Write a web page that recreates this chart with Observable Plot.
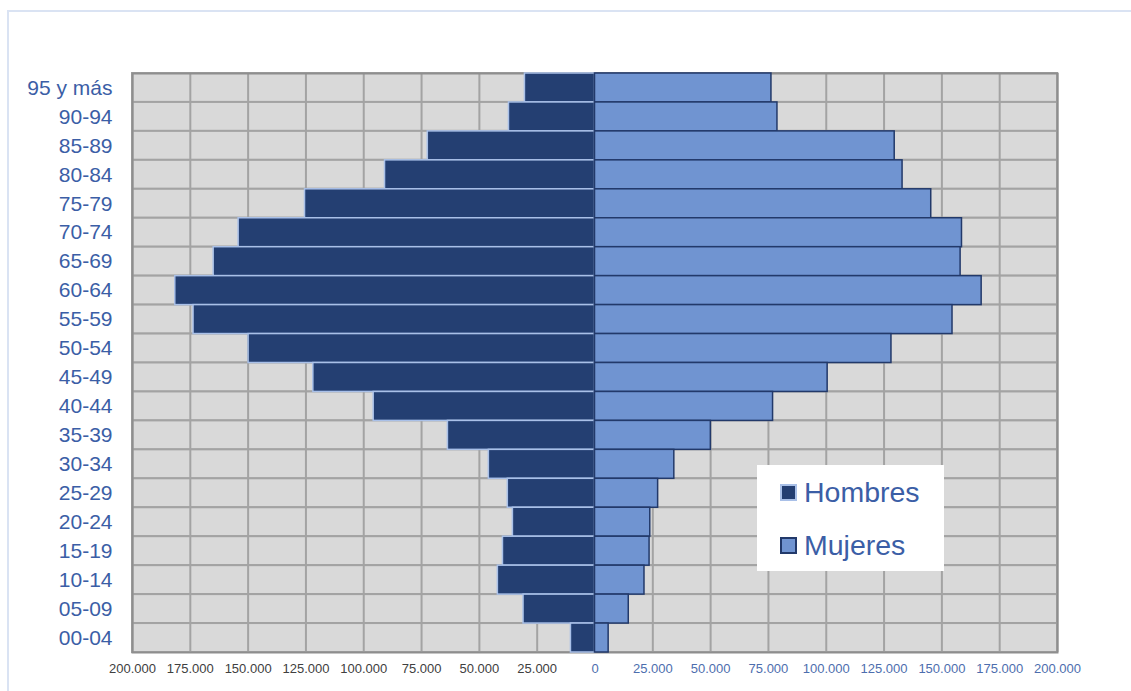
<!DOCTYPE html>
<html>
<head>
<meta charset="utf-8">
<script src="https://cdn.jsdelivr.net/npm/d3@7"></script>
<script src="https://cdn.jsdelivr.net/npm/@observablehq/plot@0.6"></script>
<style>
  html, body { margin: 0; padding: 0; background: #fff; overflow: hidden; }
  #wrap { position: relative; width: 1131px; height: 691px; overflow: hidden; font-family: "Liberation Sans", Arial, sans-serif; }
  #border { position: absolute; left: 7px; top: 10px; width: 1200px; height: 800px; border-left: 2px solid #dae3f3; border-top: 2px solid #dae3f3; }
  #chart { position: absolute; left: 0; top: 0; }
  #legend { position: absolute; left: 757px; top: 465px; width: 187px; height: 106px; background: #fff; }
  .item { position: absolute; left: 23px; height: 30px; }
  .sw { position: absolute; left: 0; width: 13px; height: 13px; border-width: 2px; border-style: solid; }
  .lab { position: absolute; left: 24px; font-size: 28.5px; color: #3b5ea6; white-space: nowrap; line-height: 1; }
</style>
</head>
<body>
<div id="wrap">
  <div id="border"></div>
  <div id="chart"></div>
  <div id="legend"></div>
</div>
<script>
const categories = ["95 y más","90-94","85-89","80-84","75-79","70-74","65-69","60-64","55-59","50-54","45-49","40-44","35-39","30-34","25-29","20-24","15-19","10-14","05-09","00-04"];
const hombres = [30300, 37200, 72300, 90800, 125400, 154100, 164900, 181500, 173600, 149800, 121800, 95700, 63600, 45900, 37700, 35500, 39800, 42000, 30900, 10400];
const mujeres = [76300, 78900, 129600, 133000, 145400, 158700, 158100, 167200, 154600, 128200, 100600, 77000, 50100, 34300, 27300, 23900, 23600, 21400, 14600, 5900];
const tickValues = [-200000,-175000,-150000,-125000,-100000,-75000,-50000,-25000,0,25000,50000,75000,100000,125000,150000,175000,200000];
const seriesNames = ["Hombres","Mujeres"];

const colors = {
  hombresFill: "#243f72", hombresStroke: "#a9c0e8",
  mujeresFill: "#7094d1", mujeresStroke: "#22396a"
};

const rows = categories.map((c, i) => ({age: c, hombres: hombres[i], mujeres: mujeres[i]}));
const loc = d3.formatLocale({decimal: ",", thousands: ".", grouping: [3], currency: ["", ""]});
const fmt = v => loc.format(",")(Math.abs(v));
const xMin = tickValues[0], xMax = tickValues[tickValues.length - 1];

const chart = Plot.plot({
  width: 1131,
  height: 691,
  marginLeft: 132,
  marginRight: 74,
  marginTop: 73,
  marginBottom: 39,
  style: {fontFamily: "'Liberation Sans', Arial, sans-serif", background: "transparent", overflow: "visible"},
  x: {domain: [xMin, xMax], axis: null},
  y: {domain: categories, padding: 0, round: false, axis: null},
  marks: [
    Plot.barX(categories, {y: d => d, x1: xMin, x2: xMax, fill: "#d9d9d9", stroke: "#a3a3a3", strokeWidth: 2}),
    Plot.ruleX(tickValues, {stroke: "#a3a3a3", strokeWidth: 2}),
    Plot.frame({stroke: "#8e8e8e", strokeWidth: 2}),
    Plot.barX(rows, {y: "age", x1: 0, x2: d => -d.hombres, fill: colors.hombresFill, stroke: colors.hombresStroke, strokeWidth: 1.5}),
    Plot.barX(rows, {y: "age", x1: 0, x2: "mujeres", fill: colors.mujeresFill, stroke: colors.mujeresStroke, strokeWidth: 1.5}),
    Plot.axisY({tickSize: 0, tickPadding: 20, fontSize: 21, fill: "#3b5ea6", label: null}),
    Plot.axisX(tickValues.filter(v => v < 0), {tickSize: 0, tickPadding: 11, fontSize: 13, fill: "#404040", tickFormat: fmt, label: null}),
    Plot.axisX(tickValues.filter(v => v >= 0), {tickSize: 0, tickPadding: 11, fontSize: 13, fill: "#4d6eae", tickFormat: fmt, label: null})
  ]
});
document.getElementById("chart").appendChild(chart);

// legend
const legend = document.getElementById("legend");
const legendStyles = [
  {fill: colors.hombresFill, stroke: colors.hombresStroke, top: 19},
  {fill: colors.mujeresFill, stroke: colors.mujeresStroke, top: 72}
];
seriesNames.forEach((name, i) => {
  const s = legendStyles[i];
  const item = document.createElement("div");
  item.className = "item";
  item.style.top = s.top + "px";
  const sw = document.createElement("div");
  sw.className = "sw";
  sw.style.background = s.fill;
  sw.style.borderColor = s.stroke;
  const lab = document.createElement("div");
  lab.className = "lab";
  lab.style.top = "-6px";
  lab.textContent = name;
  item.appendChild(sw);
  item.appendChild(lab);
  legend.appendChild(item);
});
</script>
</body>
</html>
